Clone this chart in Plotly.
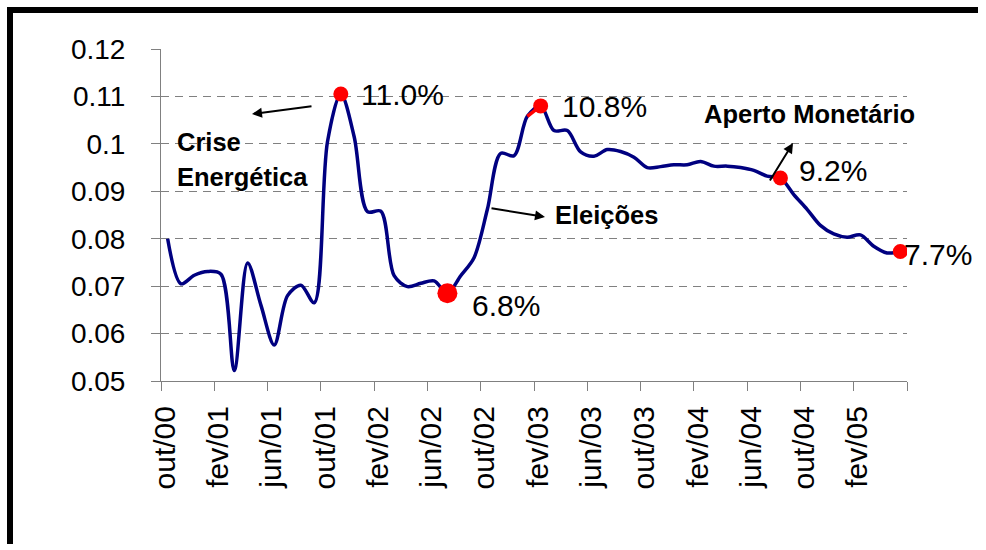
import plotly.graph_objects as go

# ---------------- data ----------------
tick_labels = ["out/00", "fev/01", "jun/01", "out/01", "fev/02", "jun/02", "out/02",
               "fev/03", "jun/03", "out/03", "fev/04", "jun/04", "out/04", "fev/05"]

# monthly rate, out/2000 .. mai/2005
rates = [0.0800, 0.0705, 0.0723, 0.0731, 0.0725, 0.0522, 0.0749, 0.0660, 0.0576, 0.0680,
         0.0702, 0.0665, 0.1005, 0.1105, 0.1015, 0.0857, 0.0858, 0.0722, 0.0699, 0.0706,
         0.0711, 0.0685, 0.0722, 0.0760, 0.0862, 0.0980, 0.0975, 0.1058, 0.1080, 0.1028,
         0.1028, 0.0983, 0.0974, 0.0988, 0.0984, 0.0972, 0.0950, 0.0952, 0.0956, 0.0956,
         0.0963, 0.0953, 0.0953, 0.0950, 0.0944, 0.0932, 0.0928, 0.0893, 0.0862, 0.0828,
         0.0810, 0.0803, 0.0808, 0.0784, 0.0770, 0.0773]

highlight_idx = [13, 28, 46, 55]      # highlighted months (regular markers)
low_idx = [21]                         # highlighted month (larger marker)
highlight_text = ["11.0%", "10.8%", "9.2%", "7.7%"]
low_text = ["6.8%"]
y_tick_vals = [0.05, 0.06, 0.07, 0.08, 0.09, 0.10, 0.11, 0.12]
y_tick_text = ["0.05", "0.06", "0.07", "0.08", "0.09", "0.1", "0.11", "0.12"]

# ---------------- figure ----------------
W, H = 978, 544
L, T = 161, 49
PX_RIGHT, PX_BOTTOM = 907, 381          # plot-area right / bottom edges (px)
R, B = W - PX_RIGHT, H - PX_BOTTOM
PW, PH = PX_RIGHT - L, PX_BOTTOM - T
FONT = "Liberation Sans, Arial, sans-serif"

def px(xp):
    return (xp - L) / PW

def py(yp):
    return (PX_BOTTOM - yp) / PH

xs = [i + 0.5 for i in range(len(rates))]

fig = go.Figure()
fig.add_trace(go.Scatter(
    x=xs, y=rates, mode="lines",
    line=dict(color="#000080", width=3.5, shape="spline", smoothing=0.9),
    hoverinfo="skip"))
# red segment leading into the 10.8% point
fig.add_trace(go.Scatter(
    x=[xs[27], xs[28]], y=[rates[27], rates[28]], mode="lines",
    line=dict(color="#FF0000", width=3.5), hoverinfo="skip"))
fig.add_trace(go.Scatter(
    x=[xs[i] for i in highlight_idx], y=[rates[i] for i in highlight_idx],
    mode="markers", marker=dict(color="#FF0000", size=15), hoverinfo="skip"))
fig.add_trace(go.Scatter(
    x=[xs[i] for i in low_idx], y=[rates[i] for i in low_idx],
    mode="markers", marker=dict(color="#FF0000", size=20), hoverinfo="skip"))

annotations = []
# percentage labels (positioned near their points)
label_offsets = {13: (18, 0), 28: (19, -1), 46: (17, 8), 55: (2, -3)}
for i, t in zip(highlight_idx, highlight_text):
    dx, dy = label_offsets[i]
    annotations.append(dict(x=xs[i], y=rates[i], text=t, showarrow=False,
                            xanchor="left", yanchor="middle", xshift=dx, yshift=dy,
                            font=dict(size=30, color="black", family=FONT)))
for i, t in zip(low_idx, low_text):
    annotations.append(dict(x=xs[i], y=rates[i], text=t, showarrow=False,
                            xanchor="left", yanchor="middle", xshift=23, yshift=-12,
                            font=dict(size=30, color="black", family=FONT)))

bold = dict(size=25.5, color="black", family=FONT)
annotations += [
    dict(x=px(175), y=py(142), xref="paper", yref="paper", text="<b>Crise</b>",
         showarrow=False, xanchor="left", yanchor="middle", font=bold),
    dict(x=px(175), y=py(177), xref="paper", yref="paper", text="<b>Energética</b>",
         showarrow=False, xanchor="left", yanchor="middle", font=bold),
    dict(x=px(553), y=py(215), xref="paper", yref="paper", text="<b>Eleições</b>",
         showarrow=False, xanchor="left", yanchor="middle", font=bold),
    dict(x=px(702), y=py(114), xref="paper", yref="paper", text="<b>Aperto Monetário</b>",
         showarrow=False, xanchor="left", yanchor="middle", font=bold),
]
# arrows (head, tail) in pixel space
arrows = [((252, 114), (313, 106)),
          ((545, 217), (490, 208)),
          ((793, 143), (769, 182))]
for (hx, hy), (tx, ty) in arrows:
    annotations.append(dict(x=px(hx), y=py(hy), xref="paper", yref="paper",
                            ax=tx - hx, ay=ty - hy, axref="pixel", ayref="pixel",
                            text="", showarrow=True, arrowhead=2, arrowsize=1,
                            arrowwidth=2, arrowcolor="black"))

frame = dict(color="black", width=6)
fig.update_layout(
    width=W, height=H,
    margin=dict(l=L, r=R, t=T, b=B, pad=0),
    paper_bgcolor="white", plot_bgcolor="white",
    showlegend=False,
    font=dict(family=FONT, color="black"),
    annotations=annotations,
    shapes=[
        dict(type="line", xref="paper", yref="paper",
             x0=px(7), x1=px(W + 3), y0=py(10), y1=py(10), line=frame, layer="above"),
        dict(type="line", xref="paper", yref="paper",
             x0=px(10), x1=px(10), y0=py(7), y1=py(H + 3), line=frame, layer="above"),
    ],
    xaxis=dict(range=[0, 56], tickmode="array",
               tickvals=list(range(0, 57, 4)), ticktext=tick_labels + [""],
               tickangle=-90, ticks="outside", ticklen=9, tickwidth=1,
               tickcolor="#808080", showline=True, linecolor="#808080", linewidth=1,
               showgrid=False, zeroline=False, ticklabelshift=4,
               ticklabelstandoff=3,
               tickfont=dict(size=30, color="black", family=FONT), fixedrange=True),
    yaxis=dict(range=[0.05, 0.12], tickmode="array",
               tickvals=y_tick_vals, ticktext=y_tick_text,
               ticks="outside", ticklen=9, tickwidth=1, tickcolor="#808080",
               showline=True, linecolor="#808080", linewidth=1,
               showgrid=True, gridcolor="#808080", gridwidth=1, griddash="8px,6px",
               zeroline=False, ticklabelstandoff=20,
               tickfont=dict(size=28, color="black", family=FONT), fixedrange=True),
)

fig.write_html(
    "out.html",
    config={"displayModeBar": False},
    post_script="document.body.style.margin='0';document.body.style.background='white';"
                "document.documentElement.style.background='white';"
                "document.body.style.overflow='hidden';"
                "document.documentElement.style.overflow='hidden';",
)
